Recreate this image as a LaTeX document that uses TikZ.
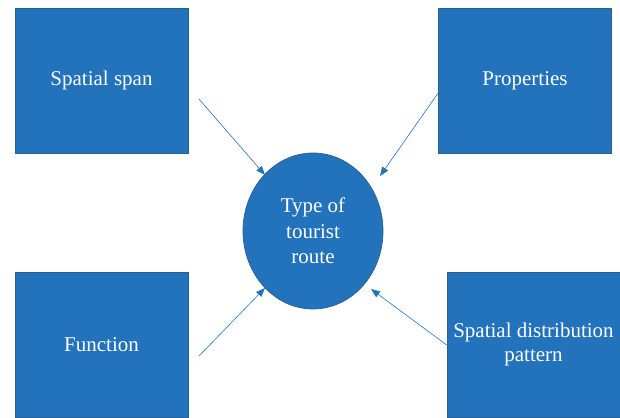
\documentclass[tikz,border=0pt]{standalone}
\usepackage{fontspec}
\setmainfont{Liberation Serif}
\usetikzlibrary{arrows.meta,shapes.geometric}
\definecolor{boxblue}{HTML}{2372BC}
\definecolor{edgeblue}{HTML}{2A5F94}
\begin{document}
\begin{tikzpicture}[x=1pt,y=-1pt,
  box/.style={draw=edgeblue,line width=0.7pt,fill=boxblue,minimum width=173pt,minimum height=145pt,inner sep=0pt,text=white,font=\fontsize{21}{24.5}\selectfont,align=center},
  hub/.style={ellipse,draw=edgeblue,line width=0.7pt,fill=boxblue,minimum width=140pt,minimum height=156pt,inner sep=0pt,text=white,font=\fontsize{21}{25.5}\selectfont,align=center},
  link/.style={draw=boxblue,line width=0.6pt,-{Triangle[length=9pt,width=7pt]}}]
\useasboundingbox (0,0) rectangle (620,417);
\begin{scope}
\clip (0,0) rectangle (620,417);
\node[box] (span) at (101.5,80.5) {Spatial span};
\node[box] (prop) at (525,80.5) {Properties};
\node[box] (func) at (101.5,344.5) {Function};
\node[box] (dist) at (533.5,344.5) {Spatial distribution\\pattern};
\node[hub] (type) at (313,231) {Type of\\tourist\\route};
\end{scope}
\coordinate (s1) at (199,99);
\coordinate (e1) at (265,175);
\coordinate (s2) at (prop.west |- 0,93);
\coordinate (e2) at (380,176);
\coordinate (s3) at (199,356);
\coordinate (e3) at (265,288);
\coordinate (s4) at (dist.west |- 0,345);
\coordinate (e4) at (371,289);
\draw[link] (s1) -- (e1);
\draw[link] (s2) -- (e2);
\draw[link] (s3) -- (e3);
\draw[link] (s4) -- (e4);
\end{tikzpicture}
\end{document}
